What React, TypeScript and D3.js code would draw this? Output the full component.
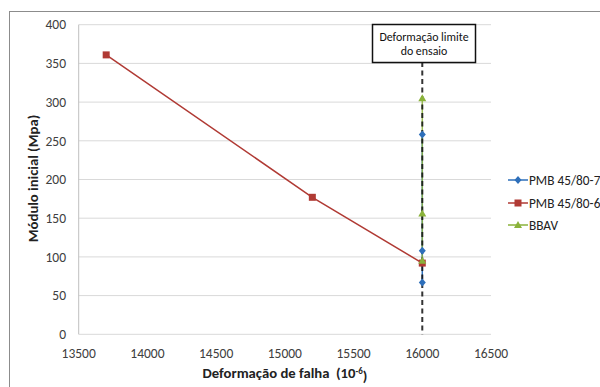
import React from "react";
import * as d3 from "d3";

const xTicks = [13500, 14000, 14500, 15000, 15500, 16000, 16500];
const yTicks = [0, 50, 100, 150, 200, 250, 300, 350, 400];

const pmb7X = [16000, 16000, 16000];
const pmb7Y = [67, 108, 258];
const pmb6X = [13700, 15200, 16000];
const pmb6Y = [361, 177, 92];
const bbavX = [16000, 16000, 16000];
const bbavY = [95, 156, 305];
const limitX = 16000;

const seriesNames = ["PMB 45/80-7", "PMB 45/80-6", "BBAV"];
const seriesColors = ["#2e6fba", "#b03a34", "#8ab23a"];

const font = "Carlito, Calibri, 'Liberation Sans Narrow', 'DejaVu Sans Condensed', 'Open Sans', sans-serif";

export default function App() {
  const x = d3.scaleLinear().domain([13500, 16500]).range([78.7, 491]);
  const y = d3.scaleLinear().domain([0, 400]).range([334.3, 24.7]);
  const line = d3
    .line<[number, number]>()
    .x((d) => x(d[0]))
    .y((d) => y(d[1]));

  const series = [
    { xs: pmb7X, ys: pmb7Y },
    { xs: pmb6X, ys: pmb6Y },
    { xs: bbavX, ys: bbavY },
  ];

  const marker = (i: number, cx: number, cy: number, key: string) => {
    const c = seriesColors[i];
    if (i === 0)
      return (
        <path key={key} d={`M${cx},${cy - 4}L${cx + 3.5},${cy}L${cx},${cy + 4}L${cx - 3.5},${cy}Z`} fill={c} />
      );
    if (i === 1) return <rect key={key} x={cx - 3.5} y={cy - 3.5} width={7} height={7} fill={c} />;
    return <path key={key} d={`M${cx},${cy - 4}L${cx + 4},${cy + 3}L${cx - 4},${cy + 3}Z`} fill={c} />;
  };

  const legendY = [180, 203, 225];

  return (
    <svg
      width={600}
      height={387}
      style={{ position: "absolute", left: 0, top: 0, background: "#fff" }}
      fontFamily={font}
    >
      <rect x={9.5} y={11.5} width={620} height={400} fill="#fff" stroke="#8c8c8c" strokeWidth={1} />
      {yTicks.map((t) => (
        <line key={"g" + t} x1={x(13500)} x2={x(16500)} y1={y(t)} y2={y(t)} stroke="#d9d9d9" strokeWidth={1} />
      ))}
      <line x1={x(13500)} x2={x(13500)} y1={y(400)} y2={y(0)} stroke="#bfbfbf" />
      {yTicks.map((t) => (
        <text key={"yt" + t} x={66} y={y(t)} dy="0.35em" textAnchor="end" fontSize={13.5} fill="#404040">
          {t}
        </text>
      ))}
      {xTicks.map((t) => (
        <text key={"xt" + t} x={x(t)} y={353} dy="0.35em" textAnchor="middle" fontSize={13.5} fill="#404040">
          {t}
        </text>
      ))}
      <text
        transform={`translate(33,178.5) rotate(-90)`}
        textAnchor="middle"
        dy="0.35em"
        fontSize={14.7}
        fontWeight="bold"
        fill="#222"
      >
        Módulo inicial (Mpa)
      </text>
      <text x={285} y={373} textAnchor="middle" dy="0.35em" fontSize={14.7} fontWeight="bold" fill="#222">
        {"Deformação de falha\u00a0 (10"}
        <tspan dy="-0.5em" fontSize={9}>-6</tspan>
        <tspan dy="0.5em">)</tspan>
      </text>

      {series.map((s, i) => {
        const pts = s.xs.map((v, k) => [v, s.ys[k]] as [number, number]);
        return (
          <path key={"s" + i} d={line(pts) || ""} fill="none" stroke={seriesColors[i]} strokeWidth={1.5} opacity={i === 2 ? 0.85 : 1} />
        );
      })}
      <line
        x1={x(limitX)}
        x2={x(limitX)}
        y1={62}
        y2={y(0)}
        stroke="#111"
        strokeWidth={2}
        strokeDasharray="5,3.5"
        opacity={0.85}
      />
      {series.map((s, i) => (
        <g key={"m" + i}>{s.xs.map((v, k) => marker(i, x(v), y(s.ys[k]), `m${i}-${k}`))}</g>
      ))}

      {/* annotation */}
      <rect x={372.5} y={24.5} width={103} height={38} fill="#fff" stroke="#111" strokeWidth={1.5} />
      <text x={424} y={37} dy="0.35em" textAnchor="middle" fontSize={11.9} fill="#111">
        Deformação limite
      </text>
      <text x={424} y={50.5} dy="0.35em" textAnchor="middle" fontSize={11.9} fill="#111">
        do ensaio
      </text>

      {/* legend */}
      {seriesNames.map((n, i) => (
        <g key={"l" + i}>
          <line x1={508} x2={528} y1={legendY[i]} y2={legendY[i]} stroke={seriesColors[i]} strokeWidth={1.5} />
          {marker(i, 518, legendY[i], "lm" + i)}
          <text x={529} y={legendY[i]} dy="0.35em" fontSize={13.3} fill="#222">
            {n}
          </text>
        </g>
      ))}
    </svg>
  );
}
